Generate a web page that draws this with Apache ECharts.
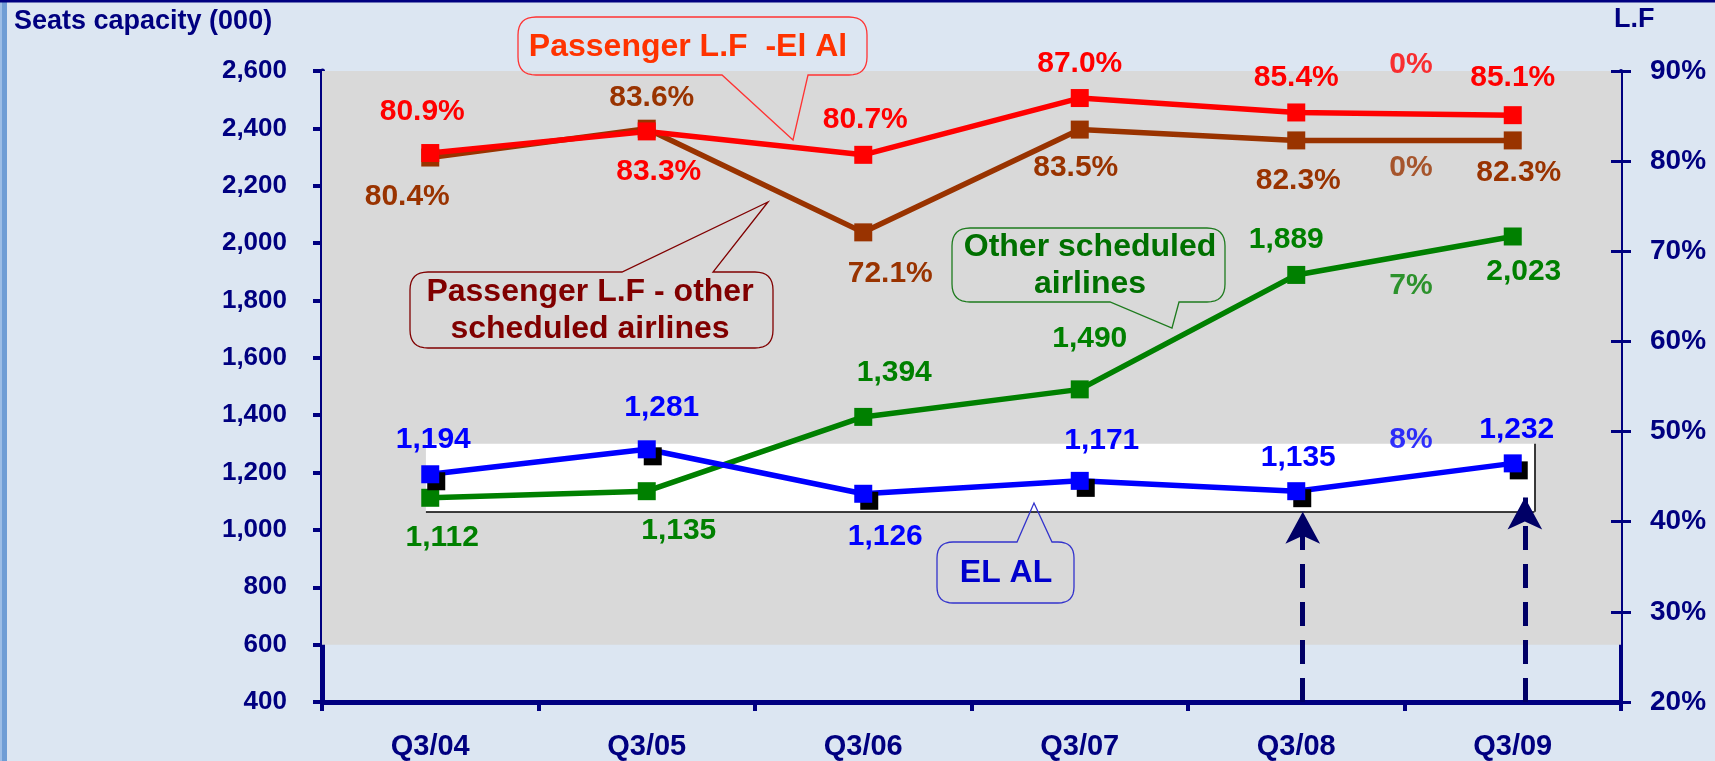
<!DOCTYPE html>
<html>
<head>
<meta charset="utf-8">
<script src="https://cdn.jsdelivr.net/npm/echarts/dist/echarts.min.js"></script>
<style>
html,body{margin:0;padding:0;background:#DCE6F2;}
#chart{width:1715px;height:761px;}
</style>
</head>
<body>
<div id="chart"></div>
<script>
// ---------------- data ----------------
const categories = ['Q3/04', 'Q3/05', 'Q3/06', 'Q3/07', 'Q3/08', 'Q3/09'];
const elAlSeats = [1194, 1281, 1126, 1171, 1135, 1232];        // seats capacity (000) - EL AL
const otherSeats = [1112, 1135, 1394, 1490, 1889, 2023];       // seats capacity (000) - other scheduled airlines
const elAlLF = [80.9, 83.3, 80.7, 87.0, 85.4, 85.1];           // passenger load factor % - El Al
const otherLF = [80.4, 83.6, 72.1, 83.5, 82.3, 82.3];          // passenger load factor % - other scheduled airlines
const seatAxis = { min: 400, max: 2600, interval: 200 };
const lfAxis = { min: 20, max: 90, interval: 10 };
const changeTexts = ['0%', '0%', '7%', '8%'];                  // Q3/08 -> Q3/09 change annotations
const changeAnchorSeats = [2622, 2263, 1851, 1314];            // where each annotation sits on the seats scale

// ---------------- layout / style (not data) ----------------
const FONT = "'Liberation Sans', Arial, sans-serif";
const NAVY = '#000080';
const C_RED = '#FF0000', C_BROWN = '#993300', C_GREEN = '#008000', C_BLUE = '#0000FF';
const changeColors = [C_RED, C_BROWN, C_GREEN, C_BLUE];
const offRed   = [[-8,-41],[12,40],[2,-35],[0,-34],[0,-35],[0,-37]];
const offBrown = [[-23,39],[5,-31],[27,41],[-4,38],[2,40],[6,32]];
const offGreen = [[12,40],[32,40],[31,-44],[10,-51],[-10,-35],[11,35]];
const offBlue  = [[3,-35],[15,-42],[22,43],[22,-40],[2,-33],[4,-34]];

const fmtSeats = v => Number(v).toLocaleString('en-US');
const fmtPct = v => Number(v).toFixed(1) + '%';

function withOffsets(vals, offs) {
  return vals.map((v, i) => ({ value: v, label: { offset: offs[i] } }));
}

function lineSeries(name, vals, offs, color, yIdx, fmt, extraItem) {
  return {
    name: name, type: 'line', xAxisIndex: 0, yAxisIndex: yIdx,
    data: withOffsets(vals, offs),
    symbol: 'rect', symbolSize: 18,
    lineStyle: { color: color, width: 5.5 },
    itemStyle: Object.assign({ color: color }, extraItem || {}),
    label: {
      show: true, position: 'inside', color: color,
      fontFamily: FONT, fontWeight: 'bold', fontSize: 30,
      formatter: p => fmt(p.value)
    },
    z: 5, animation: false
  };
}

// quadratic corner sampler
function quad(p0, c, p1, n) {
  const pts = [];
  for (let i = 1; i <= n; i++) {
    const t = i / n, a = (1 - t) * (1 - t), b = 2 * (1 - t) * t, d = t * t;
    pts.push([a * p0[0] + b * c[0] + d * p1[0], a * p0[1] + b * c[1] + d * p1[1]]);
  }
  return pts;
}

function callout(x0, y0, x1, y1, r, side, b1, b2, tx, ty) {
  const n = 8;
  let pts = [[x0 + r, y0]];
  if (side === 'top') pts.push([b1, y0], [tx, ty], [b2, y0]);
  pts.push([x1 - r, y0]);
  pts = pts.concat(quad([x1 - r, y0], [x1, y0], [x1, y0 + r], n));
  pts.push([x1, y1 - r]);
  pts = pts.concat(quad([x1, y1 - r], [x1, y1], [x1 - r, y1], n));
  if (side === 'bottom') pts.push([b2, y1], [tx, ty], [b1, y1]);
  pts.push([x0 + r, y1]);
  pts = pts.concat(quad([x0 + r, y1], [x0, y1], [x0, y1 - r], n));
  pts.push([x0, y0 + r]);
  pts = pts.concat(quad([x0, y0 + r], [x0, y0], [x0 + r, y0], n));
  return pts;
}

function calloutGraphic(points, stroke, text, cx, cy, color) {
  return [
    { type: 'polygon', shape: { points: points }, style: { fill: 'transparent', stroke: stroke, lineWidth: 1.3 }, z: 50, silent: true },
    { type: 'text', x: cx, y: cy, z: 51, silent: true,
      style: { text: text, fill: color, font: `bold 32px ${FONT}`, align: 'center', verticalAlign: 'middle', lineHeight: 37 } }
  ];
}

const chart = echarts.init(document.getElementById('chart'), null, { renderer: 'canvas' });

const option = {
  backgroundColor: '#DCE6F2',
  animation: false,
  grid: { left: 322, right: 94, top: 71, bottom: 59, containLabel: false, outerBoundsMode: 'none' },
  xAxis: [
    {
      type: 'category', data: categories, boundaryGap: true,
      axisLine: { show: true, lineStyle: { color: NAVY, width: 5 } },
      axisTick: { show: true, length: 9, lineStyle: { color: NAVY, width: 4 } },
      axisLabel: { color: NAVY, fontFamily: FONT, fontWeight: 'bold', fontSize: 29, margin: 30 },
      splitLine: { show: false }
    },
    { type: 'value', min: 0, max: 6, show: false }
  ],
  yAxis: [
    {
      type: 'value', position: 'left', min: seatAxis.min, max: seatAxis.max, interval: seatAxis.interval,
      axisLine: { show: true, lineStyle: { color: NAVY, width: 5 } },
      axisTick: { show: true, length: 9, lineStyle: { color: NAVY, width: 4 } },
      axisLabel: { color: NAVY, fontFamily: FONT, fontWeight: 'bold', fontSize: 26, margin: 35, formatter: fmtSeats },
      splitLine: { show: false }
    },
    {
      type: 'value', position: 'right', min: lfAxis.min, max: lfAxis.max, interval: lfAxis.interval,
      axisLine: { show: true, lineStyle: { color: NAVY, width: 4 } },
      axisTick: { show: true, length: 10, lineStyle: { color: NAVY, width: 3 } },
      axisLabel: { color: NAVY, fontFamily: FONT, fontWeight: 'bold', fontSize: 28, margin: 29, formatter: '{value}%' },
      splitLine: { show: false }
    },
    {
      type: 'value', position: 'right', offset: 0, z: 10, min: lfAxis.min, max: lfAxis.max, interval: lfAxis.interval,
      axisLine: { show: false },
      axisTick: { show: true, inside: true, length: 10, lineStyle: { color: NAVY, width: 3 } },
      axisLabel: { show: false },
      splitLine: { show: false }
    }
  ],
  series: [
    {
      name: 'background', type: 'line', xAxisIndex: 1, yAxisIndex: 0, data: [], silent: true, z: -1, zlevel: 0,
      markArea: {
        silent: true,
        data: [
          [{ coord: [0, 600], itemStyle: { color: '#D9D9D9' } }, { coord: [6, 2600] }],
          [{ coord: [0.48, 1063], itemStyle: { color: '#FFFFFF' } }, { coord: [5.6, 1300] }]
        ]
      },
      markLine: {
        silent: true, symbol: 'none', label: { show: false },
        lineStyle: { color: '#000000', width: 1.5, type: 'solid' },
        data: [
          [{ coord: [0.48, 1063] }, { coord: [5.6, 1063] }],
          [{ coord: [5.6, 1063] }, { coord: [5.6, 1300] }]
        ]
      }
    },
    {
      name: 'arrows', type: 'line', xAxisIndex: 1, yAxisIndex: 0, data: [], silent: true, z: 1,
      markLine: {
        silent: true, symbol: ['none', 'arrow'], symbolSize: [26, 32], label: { show: false },
        lineStyle: { color: '#000066', width: 5, type: [24, 14] },
        data: [
          [{ coord: [4.53, 400] }, { coord: [4.53, 1063] }],
          [{ coord: [5.556, 400] }, { coord: [5.556, 1113] }]
        ]
      }
    },
    lineSeries('Passenger L.F - other scheduled airlines', otherLF, offBrown, C_BROWN, 2, fmtPct),
    lineSeries('Passenger L.F -El Al', elAlLF, offRed, C_RED, 1, fmtPct),
    lineSeries('Other scheduled airlines', otherSeats, offGreen, C_GREEN, 0, fmtSeats),
    lineSeries('EL AL', elAlSeats, offBlue, C_BLUE, 0, fmtSeats,
      { shadowColor: '#000000', shadowBlur: 0, shadowOffsetX: 6, shadowOffsetY: 7 }),
    {
      name: 'change', type: 'scatter', xAxisIndex: 1, yAxisIndex: 0, clip: false, silent: true, z: 6,
      symbolSize: 1, itemStyle: { color: 'transparent' },
      data: changeAnchorSeats.map((y, i) => ({
        value: [5.03, y],
        label: { color: changeColors[i], formatter: changeTexts[i] }
      })),
      label: { show: true, position: 'inside', fontFamily: FONT, fontWeight: 'bold', fontSize: 30 }
    }
  ],
  graphic: [
    { type: 'rect', shape: { x: 0, y: 0, width: 7, height: 761 }, style: { fill: '#6F9DD5' }, z: 100, silent: true },
    { type: 'rect', shape: { x: 0, y: 0, width: 2, height: 761 }, style: { fill: '#9CBDE6' }, z: 101, silent: true },
    { type: 'rect', shape: { x: 0, y: 0, width: 1715, height: 2.5 }, style: { fill: NAVY }, z: 102, silent: true },
    { type: 'text', x: 14, y: 22, z: 100, silent: true,
      style: { text: 'Seats capacity (000)', fill: NAVY, font: `bold 27px ${FONT}`, align: 'left', verticalAlign: 'middle' } },
    { type: 'text', x: 1614, y: 20, z: 100, silent: true,
      style: { text: 'L.F', fill: NAVY, font: `bold 27px ${FONT}`, align: 'left', verticalAlign: 'middle' } }
  ]
    .concat(calloutGraphic(callout(518, 17, 867, 75, 18, 'bottom', 722, 808, 793, 140), '#FF3333',
      'Passenger L.F  -El Al', 688, 47, '#FF3300'))
    .concat(calloutGraphic(callout(410, 272, 773, 348, 18, 'top', 622, 713, 768, 202), '#800000',
      'Passenger L.F - other\nscheduled airlines', 590, 311, '#800000'))
    .concat(calloutGraphic(callout(952, 228, 1225, 302, 18, 'bottom', 1110, 1179, 1172, 328), '#1E7B1E',
      'Other scheduled\nairlines', 1090, 266, '#007000'))
    .concat(calloutGraphic(callout(937, 542, 1074, 603, 16, 'top', 1017, 1052, 1034, 503), '#3333CC',
      'EL AL', 1006, 573, '#0000CC'))
};

chart.setOption(option);
</script>
</body>
</html>
